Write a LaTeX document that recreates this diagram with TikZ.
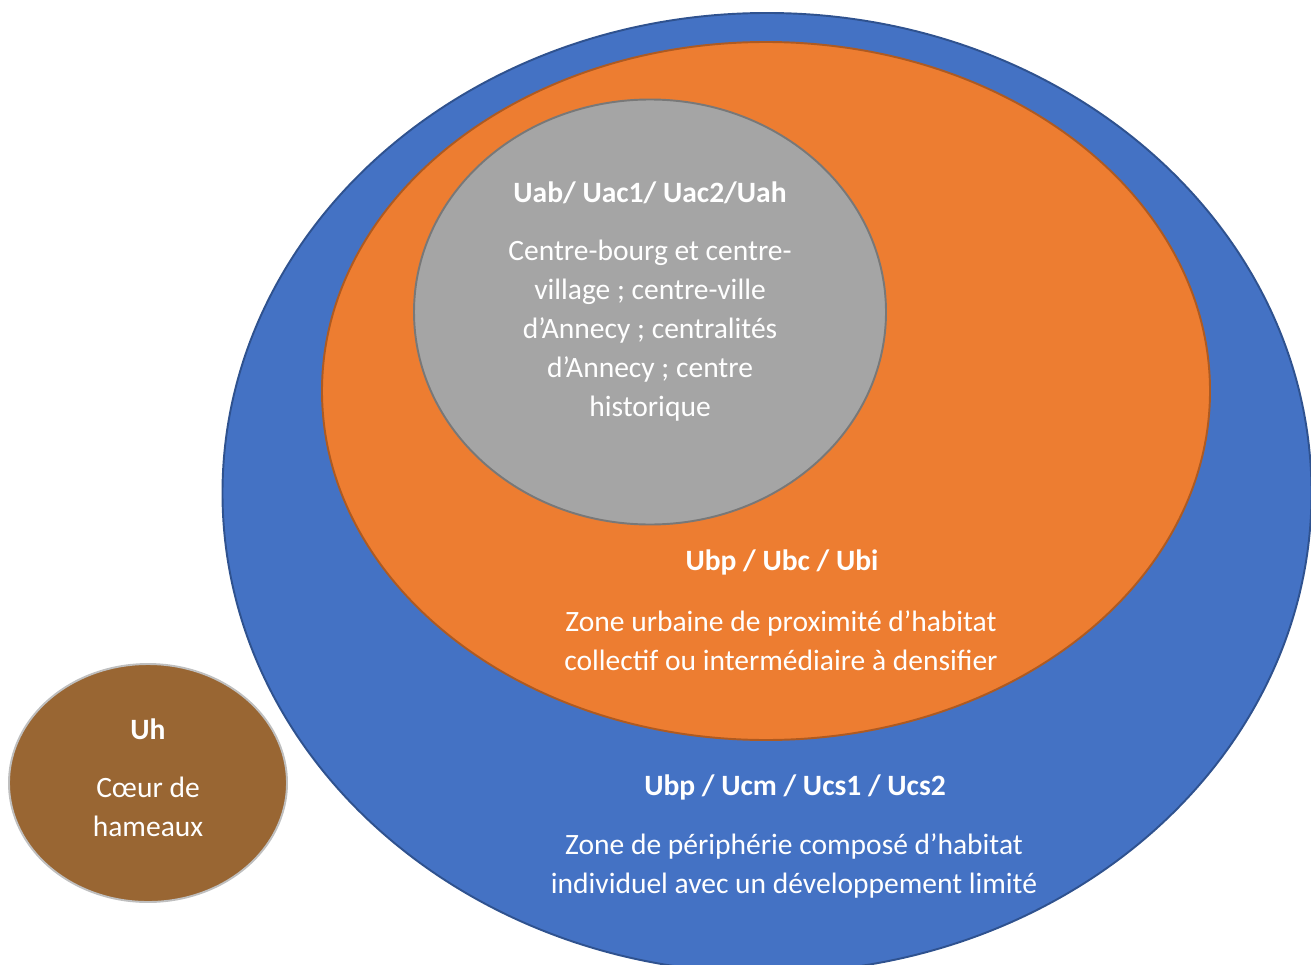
\documentclass[tikz,border=0pt]{standalone}
\usepackage{fontspec}
\setmainfont{Carlito}
\usetikzlibrary{shapes.geometric}
\definecolor{zoneblue}{HTML}{4472C4}
\definecolor{zoneblueline}{HTML}{2F528F}
\definecolor{zoneorange}{HTML}{ED7D31}
\definecolor{zoneorangeline}{HTML}{AE5A21}
\definecolor{zonegray}{HTML}{A5A5A5}
\definecolor{zonegrayline}{HTML}{787878}
\definecolor{zonebrown}{HTML}{996633}
\definecolor{zonebrownline}{HTML}{BFBFBF}
\tikzset{
	zone/.style={ellipse, draw, line width=1.1pt, inner sep=0pt},
	title/.style={text=white, font=\fontsize{16.8}{22.2}\selectfont\bfseries},
	desc/.style={text=white, align=center, font=\fontsize{16.8}{22.2}\selectfont}
}
\begin{document}
\begin{tikzpicture}[x=0.2mm, y=-0.2mm]
\useasboundingbox (0,0) rectangle (1311,964);

\node [zone, fill=zoneblue, draw=zoneblueline, minimum width=21.78cm, minimum height=19.2cm] (ub) at (767,493){};
\node [zone, fill=zoneorange, draw=zoneorangeline, minimum width=17.76cm, minimum height=13.96cm] (uo) at (766,391){};
\node [zone, fill=zonegray, draw=zonegrayline, minimum width=9.44cm, minimum height=8.5cm] (ua) at (650,312){};
\node [zone, fill=zonebrown, draw=zonebrownline, minimum width=5.56cm, minimum height=4.76cm] (uh) at (148,783){};

\node [title] (uatitle) at (650,193){Uab/ Uac1/ Uac2/Uah};
\node [desc] (uadesc) at (650,331){Centre-bourg et centre-\\village ; centre-ville\\d’Annecy ; centralités\\d’Annecy ; centre\\historique};

\node [title] (uotitle) at (782,562){Ubp / Ubc / Ubi};
\node [desc] (uodesc) at (781,641){Zone urbaine de proximité d’habitat\\collectif ou intermédiaire à densifier};

\node [title] (ubtitle) at (795,787){Ubp / Ucm / Ucs1 / Ucs2};
\node [desc] (ubdesc) at (794,866){Zone de périphérie composé d’habitat\\individuel avec un développement limité};

\node [title] (uhtitle) at (148,729){Uh};
\node [desc] (uhdesc) at (148,807){Cœur de\\hameaux};

\end{tikzpicture}
\end{document}
